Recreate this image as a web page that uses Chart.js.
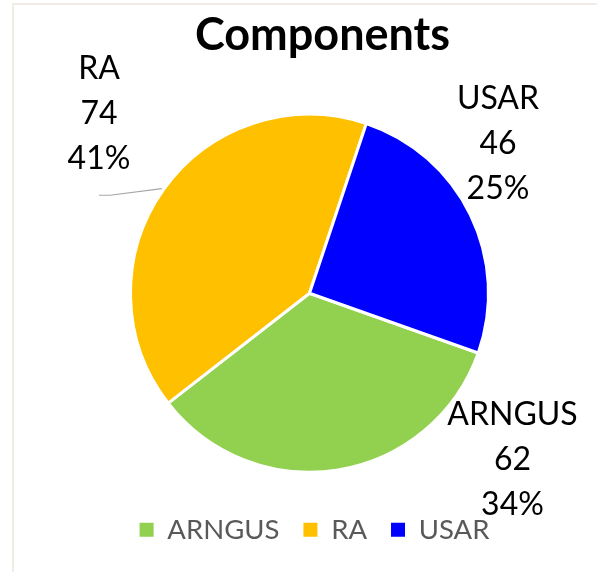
<!DOCTYPE html>
<html><head><meta charset="utf-8">
<script src="https://cdn.jsdelivr.net/npm/chart.js@4/dist/chart.umd.min.js"></script>
<style>
html,body{margin:0;padding:0;background:#fff;overflow:hidden}
#frame{position:absolute;left:12px;top:3px;width:800px;height:800px;border-left:2px solid #efede5;border-top:2px solid #efede5;box-sizing:border-box}
#wrap{position:absolute;left:0;top:0;width:597px;height:572px}
</style></head><body>
<div id="frame"></div>
<div id="wrap"><canvas id="c" width="597" height="572"></canvas></div>
<script>
const categories = ['ARNGUS', 'RA', 'USAR'];
const values = [62, 74, 46];
const colors = ['#92d050', '#ffc000', '#0000ff'];
const chartTitle = 'Components';

// label placement (relative to pie centre, in units of the pie radius)
const labelOffsets = [[1.134, 0.936], [-1.176, -1.0], [1.053, -0.83]];
const showLeader = [false, true, false];
const FONT = 'Lato';
const titleShift = 13;
const legendShift = 5;

const total = values.reduce((a, b) => a + b, 0);

const shiftPlugin = {
  id: 'shift',
  afterLayout(chart) {
    const t = chart.titleBlock;
    if (t) { t.left += titleShift; t.right += titleShift; }
    const l = chart.legend;
    if (l) { l.left += legendShift; l.right += legendShift; }
  }
};

const labelPlugin = {
  id: 'sliceLabels',
  afterDatasetsDraw(chart) {
    const ctx = chart.ctx;
    const meta = chart.getDatasetMeta(0);
    const LH = 45;
    meta.data.forEach((arc, i) => {
      const p = arc.getProps(['x', 'y', 'outerRadius', 'startAngle', 'endAngle'], true);
      const R = p.outerRadius;
      const lx = p.x + labelOffsets[i][0] * R;
      const ly = p.y + labelOffsets[i][1] * R;
      const lines = [categories[i], String(values[i]), Math.round(values[i] / total * 100) + '%'];
      ctx.save();
      ctx.font = '32px ' + FONT;
      ctx.fillStyle = '#000';
      ctx.textAlign = 'center';
      ctx.textBaseline = 'middle';
      lines.forEach((t, k) => ctx.fillText(t, lx, ly + (k - 1) * LH - 1));
      if (showLeader[i]) {
        const mid = (p.startAngle + p.endAngle) / 2;
        const ex = p.x + Math.cos(mid) * (R + 2);
        const ey = p.y + Math.sin(mid) * (R + 2);
        const sy = ly + 81;
        ctx.strokeStyle = '#a6a6a6';
        ctx.lineWidth = 1.2;
        ctx.beginPath();
        ctx.moveTo(lx, sy);
        ctx.lineTo(lx + 11, sy);
        ctx.lineTo(ex, ey);
        ctx.stroke();
      }
      ctx.restore();
    });
  }
};

new Chart(document.getElementById('c'), {
  type: 'pie',
  data: {
    labels: categories,
    datasets: [{
      data: values,
      backgroundColor: colors,
      borderColor: '#ffffff',
      borderWidth: 3
    }]
  },
  options: {
    responsive: false,
    animation: false,
    rotation: 109.5,
    radius: 179,
    layout: { padding: { left: 22, right: 0, top: 0, bottom: 18.5 } },
    plugins: {
      title: {
        display: true,
        text: chartTitle,
        color: '#000',
        font: { family: FONT, size: 45, weight: 'bold' },
        padding: { top: 8.5, bottom: 32 }
      },
      legend: {
        position: 'bottom',
        labels: {
          font: { family: FONT, size: 27.5 },
          color: '#595959',
          boxWidth: 14,
          boxHeight: 14,
          padding: 24,
          generateLabels: (chart) => categories.map((c, i) => ({
            text: c,
            fillStyle: colors[i],
            strokeStyle: colors[i],
            lineWidth: 0,
            fontColor: '#595959',
            hidden: false,
            index: i
          }))
        }
      },
      tooltip: { enabled: false }
    }
  },
  plugins: [shiftPlugin, labelPlugin]
});
</script>
</body></html>
